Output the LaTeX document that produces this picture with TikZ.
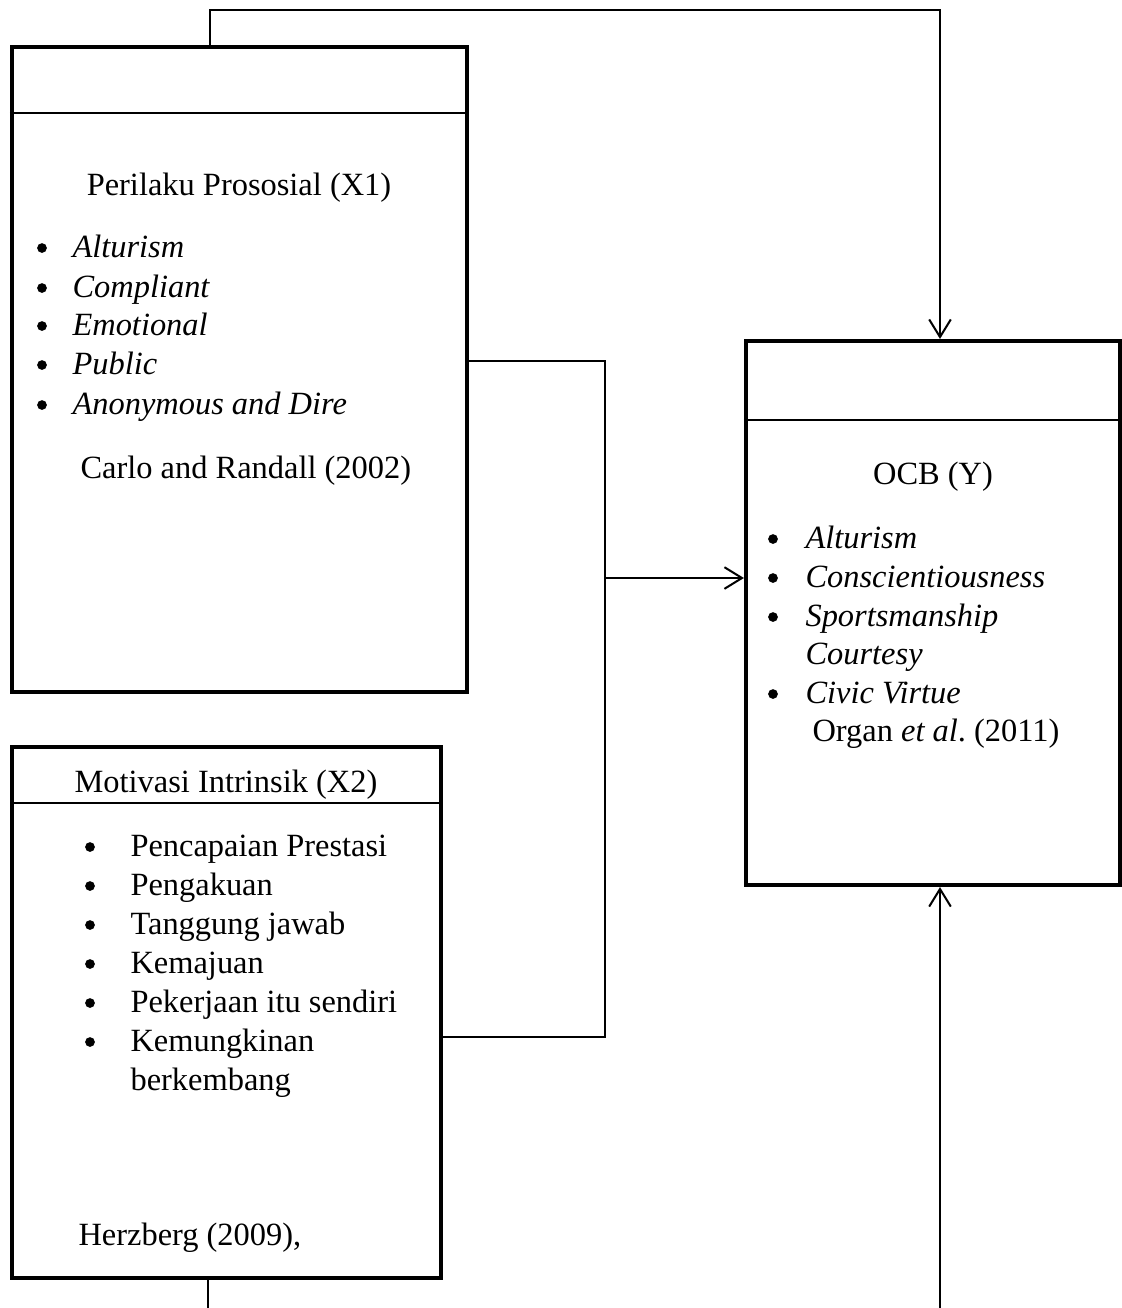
\documentclass[tikz,border=0pt]{standalone}
\usepackage{fontspec}
\setmainfont{Liberation Serif}
\usetikzlibrary{arrows.meta, positioning}
\tikzset{
  framebox/.style={rectangle, draw=black, line width=1.5pt, inner sep=0pt},
  divider/.style={draw=black, line width=0.6pt},
  link/.style={draw=black, line width=0.75pt},
  linkarrow/.style={link, -{Straight Barb[length=6.5pt, width=8pt, line width=0.75pt]}},
  headtext/.style={anchor=base, inner sep=0pt, font=\fontsize{12}{14}\selectfont},
  itemtext/.style={anchor=base west, inner sep=0pt, font=\fontsize{12}{14}\selectfont\itshape},
  plaintext/.style={anchor=base west, inner sep=0pt, font=\fontsize{12}{14}\selectfont},
  dot/.style={circle, fill=black, inner sep=0pt, minimum size=3.6pt}
}
\begin{document}
\begin{tikzpicture}[x=0.37pt, y=-0.37pt]
  \useasboundingbox (0,0) rectangle (1122,1308);

  % boxes
  \node[framebox, minimum width=168.4pt, minimum height=238.7pt] (prosocial) at (239.5,369.5) {};
  \node[framebox, minimum width=138.4pt, minimum height=201.3pt] (ocb) at (933,613) {};
  \node[framebox, minimum width=158.7pt, minimum height=196.5pt] (motivasi) at (226.5,1012.5) {};

  \draw[divider] (prosocial.west |- 0,113) -- (prosocial.east |- 0,113);
  \draw[divider] (ocb.west |- 0,420) -- (ocb.east |- 0,420);
  \draw[divider] (motivasi.west |- 0,803) -- (motivasi.east |- 0,803);

  % Perilaku Prososial
  \node[headtext] (x1title) at (239,195) {Perilaku Prososial (X1)};
  \node[dot] (x1d1) at (42,248) {};
  \node[itemtext] (x1i1) at (72,257) {Alturism};
  \node[dot] (x1d2) at (42,288) {};
  \node[itemtext] (x1i2) at (72,297) {Compliant};
  \node[dot] (x1d3) at (42,326) {};
  \node[itemtext] (x1i3) at (72,335) {Emotional};
  \node[dot] (x1d4) at (42,365) {};
  \node[itemtext] (x1i4) at (72,374) {Public};
  \node[dot] (x1d5) at (42,405) {};
  \node[itemtext] (x1i5) at (72,414) {Anonymous and Dire};
  \node[plaintext] (x1src) at (80,478) {Carlo and Randall (2002)};

  % OCB
  \node[headtext] (ytitle) at (933,484) {OCB (Y)};
  \node[dot] (yd1) at (773,539) {};
  \node[itemtext] (yi1) at (805,548) {Alturism};
  \node[dot] (yd2) at (773,578) {};
  \node[itemtext] (yi2) at (805,587) {Conscientiousness};
  \node[dot] (yd3) at (773,617) {};
  \node[itemtext] (yi3) at (805,626) {Sportsmanship};
  \node[itemtext] (yi4) at (805,664) {Courtesy};
  \node[dot] (yd5) at (773,694) {};
  \node[itemtext] (yi5) at (805,703) {Civic Virtue};
  \node[plaintext] (ysrc) at (812,741) {Organ \emph{et al}.\ (2011)};

  % Motivasi Intrinsik
  \node[headtext] (x2title) at (226,792) {Motivasi Intrinsik (X2)};
  \node[dot] (x2d1) at (90,847) {};
  \node[plaintext] (x2i1) at (130,856) {Pencapaian Prestasi};
  \node[dot] (x2d2) at (90,886) {};
  \node[plaintext] (x2i2) at (130,895) {Pengakuan};
  \node[dot] (x2d3) at (90,925) {};
  \node[plaintext] (x2i3) at (130,934) {Tanggung jawab};
  \node[dot] (x2d4) at (90,964) {};
  \node[plaintext] (x2i4) at (130,973) {Kemajuan};
  \node[dot] (x2d5) at (90,1003) {};
  \node[plaintext] (x2i5) at (130,1012) {Pekerjaan itu sendiri};
  \node[dot] (x2d6) at (90,1042) {};
  \node[plaintext] (x2i6) at (130,1051) {Kemungkinan};
  \node[plaintext] (x2i7) at (130,1090) {berkembang};
  \node[plaintext] (x2src) at (78,1245) {Herzberg (2009),};

  % connectors
  \coordinate (topL) at (210,10);
  \coordinate (topR) at (940,10);
  \coordinate (juncT) at (605,361);
  \coordinate (juncM) at (605,578);
  \coordinate (juncB) at (605,1037);
  \coordinate (botL) at (208,1308);
  \coordinate (botR) at (940,1308);

  \draw[linkarrow] (prosocial.north -| topL) -- (topL) -- (topR) -- (ocb.north -| topR);
  \draw[link] (prosocial.east |- juncT) -- (juncT) -- (juncB) -- (motivasi.east |- juncB);
  \draw[linkarrow] (juncM) -- (ocb.west |- juncM);
  \draw[link] (motivasi.south -| botL) -- (botL);
  \draw[linkarrow] (botR) -- (ocb.south -| botR);
\end{tikzpicture}
\end{document}
